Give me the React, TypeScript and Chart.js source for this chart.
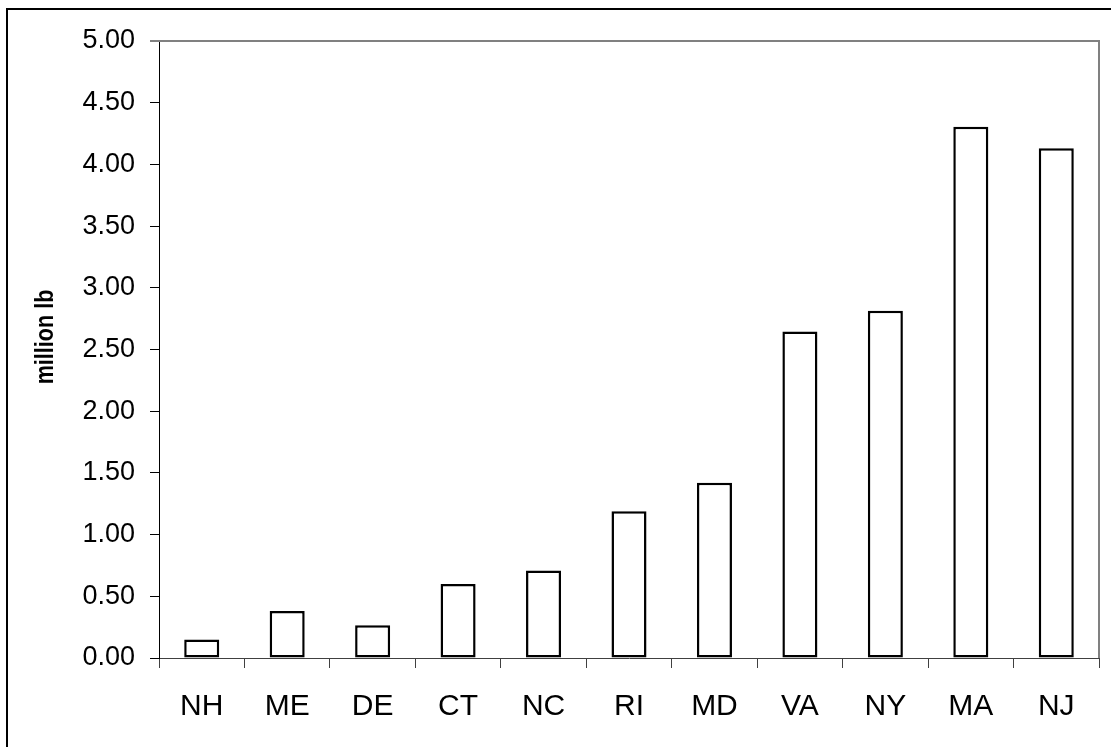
import React, { useEffect, useRef } from "react";
import { Chart, registerables } from "chart.js";

Chart.register(...registerables);

const states = ["NH", "ME", "DE", "CT", "NC", "RI", "MD", "VA", "NY", "MA", "NJ"];
const landings = [0.15, 0.38, 0.265, 0.6, 0.71, 1.19, 1.42, 2.645, 2.815, 4.305, 4.13];
const yAxisTitle = "million lb";
const yMin = 0;
const yMax = 5;
const yStep = 0.5;

const framePlugin = {
  id: "frame",
  afterDraw(chart: any) {
    const { ctx, chartArea } = chart;
    ctx.save();
    // outer chart border
    ctx.strokeStyle = "#000";
    ctx.lineWidth = 2;
    ctx.strokeRect(7, 9, 2000, 2000);
    // plot area border (top & right)
    ctx.strokeStyle = "#808080";
    ctx.lineWidth = 2;
    ctx.beginPath();
    ctx.moveTo(chartArea.left - 9, chartArea.top);
    ctx.lineTo(chartArea.right, chartArea.top);
    ctx.lineTo(chartArea.right, chartArea.bottom);
    ctx.stroke();
    // y axis title
    ctx.fillStyle = "#000";
    ctx.font = "bold 26px 'Liberation Sans', Arial, sans-serif";
    ctx.textAlign = "center";
    ctx.textBaseline = "middle";
    ctx.translate(46, 337);
    ctx.rotate(-Math.PI / 2);
    ctx.scale(0.83, 1);
    ctx.fillText(yAxisTitle, 0, 0);
    ctx.restore();
  },
};

export default function App() {
  const ref = useRef<HTMLCanvasElement | null>(null);
  useEffect(() => {
    if (!ref.current) return;
    const chart = new Chart(ref.current, {
      type: "bar",
      data: {
        labels: states,
        datasets: [
          {
            data: landings,
            backgroundColor: "#ffffff",
            borderColor: "#000000",
            borderWidth: 2.5,
            borderSkipped: false,
            barPercentage: 0.41,
            categoryPercentage: 1,
          },
        ],
      },
      options: {
        responsive: false,
        animation: false,
        layout: { padding: { left: 0, top: 41, right: 12, bottom: 0 } },
        plugins: { legend: { display: false }, tooltip: { enabled: false }, title: { display: false } },
        scales: {
          x: {
            offset: true,
            grid: { display: true, drawOnChartArea: false, drawTicks: true, tickLength: 10, color: "#404040", offset: true },
            border: { display: true, color: "#404040", width: 1 },
            ticks: {
              color: "#000",
              padding: 21,
              maxRotation: 0,
              autoSkip: false,
              font: { family: "'Liberation Sans', Arial, sans-serif", size: 30 },
            },
            afterFit(scale: any) {
              scale.height = 89;
            },
          },
          y: {
            min: yMin,
            max: yMax,
            grid: { display: true, drawOnChartArea: false, drawTicks: true, tickLength: 9, color: "#000" },
            border: { display: true, color: "#000", width: 1 },
            ticks: {
              stepSize: yStep,
              color: "#000",
              padding: 15,
              font: { family: "'Liberation Sans', Arial, sans-serif", size: 27 },
              callback: (v: any) => Number(v).toFixed(2),
            },
            afterFit(scale: any) {
              scale.width = 159;
            },
          },
        },
      },
      plugins: [framePlugin],
    });
    return () => chart.destroy();
  }, []);
  return (
    <div style={{ position: "fixed", left: 0, top: 0, width: 1111, height: 747, background: "#fff" }}>
      <canvas ref={ref} width={1111} height={747} style={{ display: "block" }} />
    </div>
  );
}
